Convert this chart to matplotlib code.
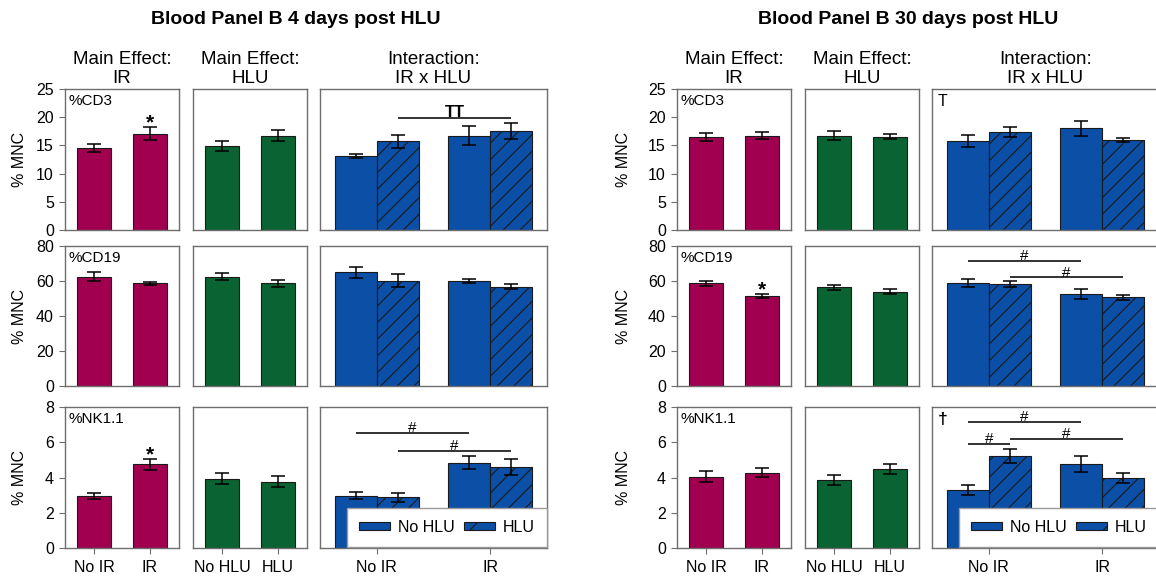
import numpy as np
import matplotlib
matplotlib.use("Agg")
import matplotlib.pyplot as plt
from matplotlib.patches import Patch

# ---------------- data ----------------
panel_titles = ["Blood Panel B 4 days post HLU", "Blood Panel B 30 days post HLU"]
column_titles = ["Main Effect:\nIR", "Main Effect:\nHLU", "Interaction:\nIR x HLU"]
row_labels = ["%CD3", "%CD19", "%NK1.1"]
ir_ticks = ["No IR", "IR"]
hlu_ticks = ["No HLU", "HLU"]
legend_labels = ["No HLU", "HLU"]
y_limits = [25, 80, 8]
y_steps = [5, 20, 2]
y_axis_label = "% MNC"

# 4 days post HLU (rows: CD3, CD19, NK1.1)
d4_ir_mean = [[14.5, 17.1], [62.5, 58.7], [2.95, 4.75]]
d4_ir_sem = [[0.75, 1.1], [2.5, 1.0], [0.16, 0.30]]
d4_hlu_mean = [[14.9, 16.7], [62.3, 58.7], [3.92, 3.77]]
d4_hlu_sem = [[0.95, 0.95], [2.0, 1.9], [0.31, 0.33]]
d4_nohlu_by_ir = [[13.2, 16.7], [65.0, 60.0], [2.97, 4.85]]
d4_nohlu_by_ir_sem = [[0.35, 1.7], [3.2, 1.3], [0.19, 0.35]]
d4_hlu_by_ir = [[15.7, 17.5], [60.2, 56.8], [2.88, 4.62]]
d4_hlu_by_ir_sem = [[1.2, 1.4], [3.6, 1.4], [0.26, 0.45]]

# 30 days post HLU
d30_ir_mean = [[16.5, 16.7], [58.7, 51.6], [4.05, 4.28]]
d30_ir_sem = [[0.7, 0.6], [1.5, 1.2], [0.33, 0.27]]
d30_hlu_mean = [[16.7, 16.5], [56.4, 53.9], [3.86, 4.47]]
d30_hlu_sem = [[0.8, 0.45], [1.6, 1.3], [0.29, 0.27]]
d30_nohlu_by_ir = [[15.8, 18.0], [58.9, 52.6], [3.30, 4.77]]
d30_nohlu_by_ir_sem = [[1.0, 1.3], [2.1, 2.6], [0.27, 0.45]]
d30_hlu_by_ir = [[17.4, 15.9], [58.3, 50.7], [5.23, 3.96]]
d30_hlu_by_ir_sem = [[0.95, 0.35], [1.9, 1.5], [0.41, 0.27]]

# significance marks: (row, column, bar index, symbol)
d4_stars = [(0, 0, 1, "*"), (2, 0, 1, "*")]
d30_stars = [(1, 0, 1, "*")]
# interaction brackets: (row, from bar, to bar, height, symbol)
# bars: 0 NoIR-NoHLU, 1 NoIR-HLU, 2 IR-NoHLU, 3 IR-HLU
d4_brackets = [(0, 1, 3, 19.9, "TT"), (2, 0, 2, 6.55, "#"), (2, 1, 3, 5.5, "#")]
d30_brackets = [(1, 0, 2, 71.4, "#"), (1, 1, 3, 62.1, "#"),
                (2, 0, 2, 7.14, "#"), (2, 0, 1, 5.9, "#"), (2, 1, 3, 6.2, "#")]
# corner marks in the interaction panel: (row, symbol, bold)
d4_corner = []
d30_corner = [(0, "T", False), (2, "\u2020", True)]

halves = [
    dict(ir=(d4_ir_mean, d4_ir_sem), hlu=(d4_hlu_mean, d4_hlu_sem),
         nohlu=(d4_nohlu_by_ir, d4_nohlu_by_ir_sem), hluir=(d4_hlu_by_ir, d4_hlu_by_ir_sem),
         stars=d4_stars, brackets=d4_brackets, corner=d4_corner),
    dict(ir=(d30_ir_mean, d30_ir_sem), hlu=(d30_hlu_mean, d30_hlu_sem),
         nohlu=(d30_nohlu_by_ir, d30_nohlu_by_ir_sem), hluir=(d30_hlu_by_ir, d30_hlu_by_ir_sem),
         stars=d30_stars, brackets=d30_brackets, corner=d30_corner),
]

# ---------------- style / layout ----------------
plt.rcParams['font.family'] = ['Liberation Sans', 'DejaVu Sans']
plt.rcParams['hatch.linewidth'] = 0.8

C_IR = "#A0004F"
C_HLU = "#0A6332"
C_INT = "#0B4FA6"
EDGE = "#1a1a1a"
SPINE = "#6e6e6e"

W, H = 1156, 578
fig = plt.figure(figsize=(W / 100, H / 100), dpi=100)

rows_px = [(89, 230), (246, 386), (407, 548)]
cols_px = [(65, 179), (193, 307), (320, 547)]
half_offset = [0, 612]
ylabel_x = [20, 623]
title_x = [296, 296]

TICK_FS = 11.5
w_main = 0.6
w_int = 0.372
d_int = 0.186


def style_axes(ax, r, c, ymax, step):
    for s in ax.spines.values():
        s.set_color(SPINE)
        s.set_linewidth(1.0)
    ax.set_ylim(0, ymax)
    if c == 0:
        ax.set_yticks(np.arange(0, ymax + step / 2, step))
        ax.tick_params(axis='y', direction='out', length=4, width=0.8,
                       color=SPINE, labelsize=TICK_FS, pad=4)
    else:
        ax.set_yticks([])
    if r == 2:
        ax.tick_params(axis='x', direction='out', length=4, width=0.8,
                       color=SPINE, labelsize=TICK_FS, pad=5)
    else:
        ax.set_xticks([])


for h, hd in enumerate(halves):
    off = half_offset[h]
    fig.text((title_x[h] + off) / W, 1 - 20 / H, panel_titles[h], ha='center', va='center',
             fontsize=14, fontweight='bold')
    for c in range(3):
        l, rr = cols_px[c]
        fig.text((l + rr) / 2 / W + off / W, 1 - 69 / H, column_titles[c], ha='center',
                 va='center', fontsize=13.5, linespacing=1.2)
    for r in range(3):
        top, bot = rows_px[r]
        fig.text((ylabel_x[h]) / W, 1 - (top + bot) / 2 / H, y_axis_label, rotation=90,
                 ha='center', va='center', fontsize=11.5)
        axs = []
        for c in range(3):
            l, rr = cols_px[c]
            ax = fig.add_axes([(l + off) / W, 1 - bot / H, (rr - l) / W, (bot - top) / H])
            axs.append(ax)
            style_axes(ax, r, c, y_limits[r], y_steps[r])

        # main effect IR
        x = np.arange(2)
        m, e = hd['ir']
        ax = axs[0]
        ax.bar(x, m[r], w_main, color=C_IR, edgecolor=EDGE, linewidth=0.8, zorder=2)
        ax.errorbar(x, m[r], yerr=e[r], fmt='none', ecolor='k', elinewidth=1.1,
                    capsize=5, capthick=1.1, zorder=3)
        ax.set_xlim(-0.52, 1.52)
        ax.text(0.03, 0.965, row_labels[r], transform=ax.transAxes, ha='left', va='top',
                fontsize=11)
        if r == 2:
            ax.set_xticks(x)
            ax.set_xticklabels(ir_ticks)

        # main effect HLU
        m, e = hd['hlu']
        ax = axs[1]
        ax.bar(x, m[r], w_main, color=C_HLU, edgecolor=EDGE, linewidth=0.8, zorder=2)
        ax.errorbar(x, m[r], yerr=e[r], fmt='none', ecolor='k', elinewidth=1.1,
                    capsize=5, capthick=1.1, zorder=3)
        ax.set_xlim(-0.52, 1.52)
        if r == 2:
            ax.set_xticks(x)
            ax.set_xticklabels(hlu_ticks)

        # interaction
        ax = axs[2]
        m0, e0 = hd['nohlu']
        m1, e1 = hd['hluir']
        ax.bar(x - d_int, m0[r], w_int, color=C_INT, edgecolor=EDGE, linewidth=0.8, zorder=2)
        ax.bar(x + d_int, m1[r], w_int, color=C_INT, edgecolor=EDGE, linewidth=0.8,
               hatch='//', zorder=2)
        ax.errorbar(x - d_int, m0[r], yerr=e0[r], fmt='none', ecolor='k', elinewidth=1.1,
                    capsize=5, capthick=1.1, zorder=3)
        ax.errorbar(x + d_int, m1[r], yerr=e1[r], fmt='none', ecolor='k', elinewidth=1.1,
                    capsize=5, capthick=1.1, zorder=3)
        ax.set_xlim(-0.5, 1.5)
        bar_x = [-d_int, d_int, 1 - d_int, 1 + d_int]
        for (br, b0, b1, yv, sym) in hd['brackets']:
            if br != r:
                continue
            ax.plot([bar_x[b0], bar_x[b1]], [yv, yv], color='#222222', lw=1.3, zorder=4,
                    solid_capstyle='butt')
            bold = sym == "TT"
            ax.annotate(sym, xy=((bar_x[b0] + bar_x[b1]) / 2, yv), xytext=(0, 0.5),
                        textcoords='offset points', ha='center', va='baseline',
                        fontsize=11 if not bold else 12,
                        fontweight='bold' if bold else 'normal', zorder=5)
        for (cr, sym, bold) in hd['corner']:
            if cr == r:
                ax.text(0.025, 0.965, sym, transform=ax.transAxes, ha='left', va='top',
                        fontsize=11.5 if not bold else 12.5,
                        fontweight='bold' if bold else 'normal')
        if r == 2:
            ax.set_xticks(x)
            ax.set_xticklabels(ir_ticks)
            handles = [Patch(facecolor=C_INT, edgecolor=EDGE, linewidth=0.8, label=legend_labels[0]),
                       Patch(facecolor=C_INT, edgecolor=EDGE, linewidth=0.8, hatch='/',
                             label=legend_labels[1])]
            leg = ax.legend(handles=handles, loc='lower left', ncol=2, mode='expand',
                            bbox_to_anchor=(0.119, 0.01, 0.881, 0.27), fontsize=11.5,
                            handlelength=1.95, handleheight=0.45, handletextpad=0.5,
                            borderpad=0.75, borderaxespad=0.0, fancybox=False,
                            framealpha=1.0, edgecolor='#9a9a9a', columnspacing=1.0)
            leg.get_frame().set_linewidth(1.0)
            leg.set_zorder(6)

        # stars over main-effect bars
        for (sr, sc, bi, sym) in hd['stars']:
            if sr != r:
                continue
            mm, ee = (hd['ir'] if sc == 0 else hd['hlu'])
            ytop = mm[r][bi] + ee[r][bi]
            axs[sc].annotate(sym, xy=(bi, ytop), xytext=(0, -1.0), textcoords='offset points',
                             ha='center', va='baseline', fontsize=15, fontweight='bold',
                             zorder=5)

fig.savefig("out.png", dpi=100)
